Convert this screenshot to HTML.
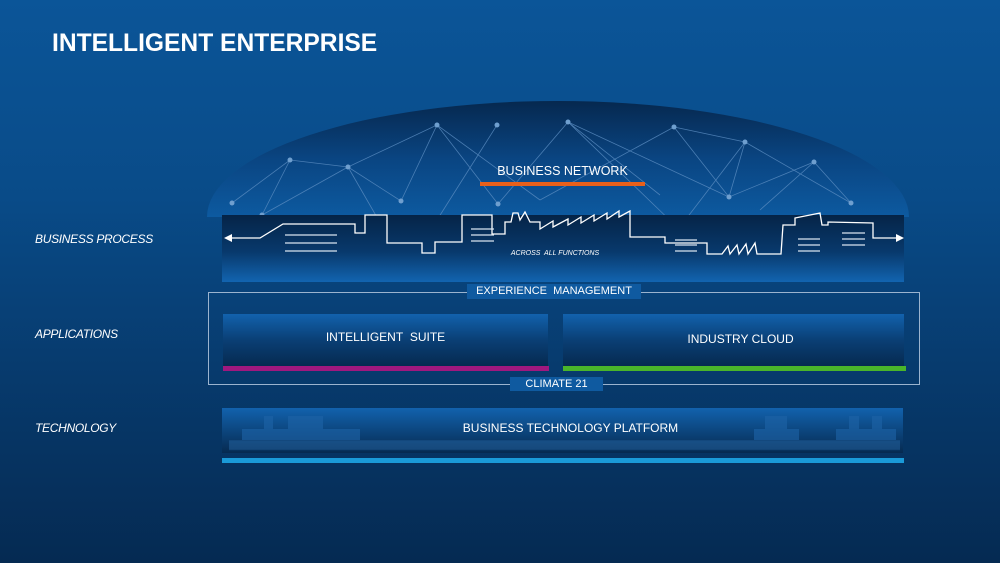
<!DOCTYPE html>
<html><head><style>
body{margin:0;width:1000px;height:563px;overflow:hidden;font-family:"Liberation Sans",sans-serif;}
.bg{position:absolute;left:0;top:0;width:1000px;height:563px;background:linear-gradient(180deg,#0b5598 0%,#094b88 35%,#073b6e 65%,#052a52 100%);}
.t{position:absolute;color:#fff;}
.lab{position:absolute;color:#fff;font-style:italic;font-size:12px;letter-spacing:-0.3px;left:35px;}
</style></head><body>
<div class="bg"></div>
<svg width="1000" height="563" style="position:absolute;left:0;top:0">
<defs>
<linearGradient id="dome" x1="0" y1="0" x2="0" y2="1"><stop offset="0" stop-color="#06284f"/><stop offset="0.5" stop-color="#0a4582"/><stop offset="1" stop-color="#0d5aa0"/></linearGradient>
<linearGradient id="band" x1="0" y1="0" x2="0" y2="1"><stop offset="0" stop-color="#052447"/><stop offset="0.55" stop-color="#08396c"/><stop offset="1" stop-color="#1264b0"/></linearGradient>
<linearGradient id="box" x1="0" y1="0" x2="0" y2="1"><stop offset="0" stop-color="#1262ad"/><stop offset="0.5" stop-color="#0a3f75"/><stop offset="1" stop-color="#062a50"/></linearGradient>
<linearGradient id="btp" x1="0" y1="0" x2="0" y2="1"><stop offset="0" stop-color="#1262ad"/><stop offset="1" stop-color="#062a50"/></linearGradient>
</defs>
<path d="M207,217 A351,116 0 0 1 909,217 Z" fill="url(#dome)"/>
<g stroke="#5a8cc0" stroke-width="0.8" fill="none" opacity="0.8">
<path d="M232,203 L290,160 L348,167 L437,125 L401,201 M262,215 L290,160 M262,215 L348,167 L401,201 M348,167 L390,240 M437,125 L498,204 M437,125 L540,200 M497,125 L437,220 M568,122 L498,204 M568,122 L680,230 M568,122 L660,195 M568,122 L729,197 M674,127 L540,200 M674,127 L729,197 M674,127 L745,142 M745,142 L729,197 L814,162 L851,203 M745,142 L851,203 M745,142 L670,240 M814,162 L760,210"/>
</g>
<g fill="#6f9fcf"><circle cx="437" cy="125" r="2.5"/><circle cx="497" cy="125" r="2.5"/><circle cx="568" cy="122" r="2.5"/><circle cx="674" cy="127" r="2.5"/><circle cx="745" cy="142" r="2.5"/><circle cx="814" cy="162" r="2.5"/><circle cx="290" cy="160" r="2.5"/><circle cx="348" cy="167" r="2.5"/><circle cx="232" cy="203" r="2.5"/><circle cx="262" cy="215" r="2.5"/><circle cx="401" cy="201" r="2.5"/><circle cx="498" cy="204" r="2.5"/><circle cx="729" cy="197" r="2.5"/><circle cx="851" cy="203" r="2.5"/></g>
<rect x="222" y="215" width="682" height="67" fill="url(#band)"/>
<path d="M230,238 L260,238 L283,224 L355,224 L355,233 L365,233 L365,215 L387,215 L387,243 L422,243 L422,253 L435,253 L435,242 L462,242 L462,215 L492,215 L492,234 L505,234 L505,222 L511,222 L513,213 L518,213 L520,220 L525,212 L530,222 L540,222 L540,229 L553,221 L553,227 L568,219 L568,225 L581,217 L581,223 L594,215 L594,221 L607,213 L607,219 L619,211 L619,217 L630,211 L630,237 L665,237 L665,243 L707,243 L707,254 L722,254 L728,246 L730,254 L737,245 L739,254 L746,244 L748,254 L755,243 L757,254 L781,254 L783,225 L795,225 L795,218 L820,213 L822,225 L828,225 L828,222 L873,223 L873,238 L898,238" fill="none" stroke="#fff" stroke-width="1.3"/>
<path d="M224,238 L232,234 L232,242 Z M904,238 L896,234 L896,242 Z" fill="#fff"/>
<g stroke="#d8e4f0" stroke-width="1.3"><path d="M285,235H337M285,243H337M285,251H337M471,229H494M471,235H494M471,241H494M675,240H697M675,245H697M675,251H697M798,239H820M798,245H820M798,251H820M842,233H865M842,239H865M842,245H865"/></g>
<rect x="480" y="182" width="165" height="4" fill="#e8601a"/>
<rect x="208.5" y="292.5" width="711" height="92" fill="none" stroke="#9bb4cf" stroke-width="1"/>
<rect x="467" y="284" width="174" height="15" fill="#0f5aa0"/>
<rect x="510" y="377" width="93" height="14" fill="#0f5aa0"/>
<rect x="223" y="314" width="325" height="52" fill="url(#box)"/>
<rect x="223" y="366" width="326" height="5" fill="#a0187e"/>
<rect x="563" y="314" width="341" height="52" fill="url(#box)"/>
<rect x="563" y="366" width="343" height="5" fill="#4ab52a"/>
<rect x="222" y="408" width="681" height="45" fill="url(#btp)"/>
<rect x="229" y="440" width="671" height="10" fill="#2a6aa8" opacity="0.45"/>
<g stroke="#0a3a6a" stroke-width="1" opacity="0.6"><path d="M229,440H900M229,450H900"/></g>
<g fill="#1e64a8" opacity="0.6"><rect x="242" y="429" width="118" height="11"/><rect x="264" y="416" width="9" height="13"/><rect x="288" y="416" width="35" height="13"/><rect x="754" y="429" width="45" height="11"/><rect x="765" y="416" width="22" height="13"/><rect x="836" y="429" width="60" height="11"/><rect x="849" y="416" width="10" height="13"/><rect x="872" y="416" width="10" height="13"/></g>
<rect x="222" y="458" width="682" height="5" fill="#1a9ad8"/>
</svg>
<div class="t" style="left:52px;top:30px;font-size:24.6px;font-weight:bold;">INTELLIGENT ENTERPRISE</div>
<div class="t" style="left:480px;width:165px;text-align:center;top:164px;font-size:12.5px;">BUSINESS NETWORK</div>
<div class="t" style="left:470px;width:170px;text-align:center;top:250px;font-size:7px;font-style:italic;">ACROSS&nbsp; ALL FUNCTIONS</div>
<div class="t" style="left:467px;width:174px;text-align:center;top:285px;font-size:11px;">EXPERIENCE&nbsp; MANAGEMENT</div>
<div class="t" style="left:223px;width:325px;text-align:center;top:330px;font-size:12px;">INTELLIGENT&nbsp; SUITE</div>
<div class="t" style="left:563px;width:355px;text-align:center;top:332px;font-size:12px;">INDUSTRY CLOUD</div>
<div class="t" style="left:510px;width:93px;text-align:center;top:378px;font-size:11px;">CLIMATE 21</div>
<div class="t" style="left:222px;width:697px;text-align:center;top:421px;font-size:12px;">BUSINESS TECHNOLOGY PLATFORM</div>
<div class="lab" style="top:232px;">BUSINESS PROCESS</div>
<div class="lab" style="top:327px;">APPLICATIONS</div>
<div class="lab" style="top:421px;">TECHNOLOGY</div>
</body></html>
